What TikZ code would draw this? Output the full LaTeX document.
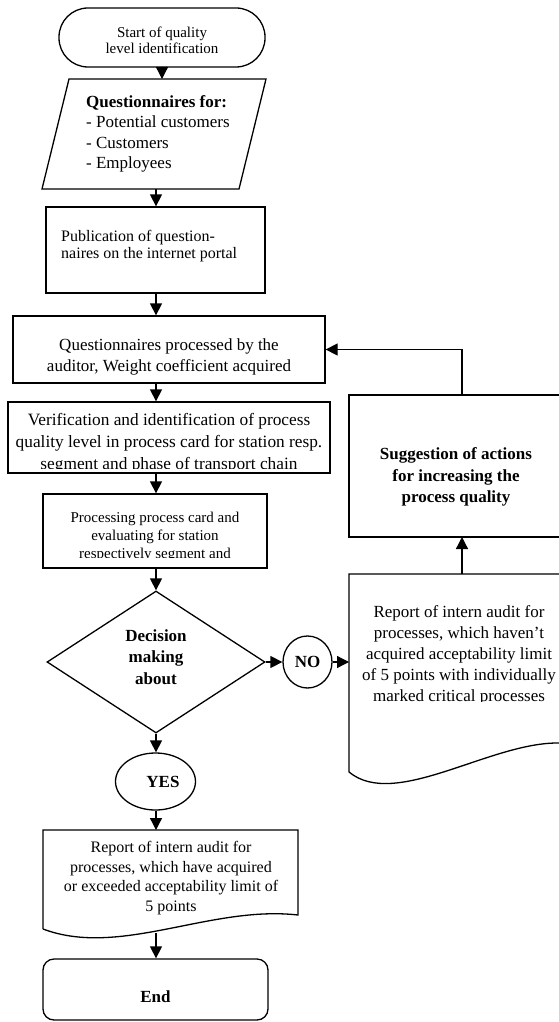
\documentclass[tikz,border=0pt]{standalone}
\usepackage{fontspec}
\setmainfont{Liberation Serif}
\usetikzlibrary{arrows.meta,shapes.geometric}
\newcommand\fsz[2]{\fontsize{#1pt}{#2pt}\selectfont}
\begin{document}
\begin{tikzpicture}[x=1pt,y=-1pt,
  lw/.style={line width=1.3pt},
  box/.style={draw,lw,rectangle,inner sep=0pt},
  txt/.style={align=center,inner sep=0pt},
  arr/.style={lw,-{Triangle[length=12pt,width=12pt]}},
]
\useasboundingbox (0,0) rectangle (559,1022);
\clip (0,0) rectangle (559,1022);

% start
\node[box,rounded corners=29pt,minimum width=206pt,minimum height=59pt] (start) at (162,37.5) {};
\node[txt,font=\fsz{15}{16}] (startt) at (162,40) {Start of quality\\level identification};

% parallelogram
\draw[lw] (69,79) -- (266,79) -- (239,189) -- (42,189) -- cycle;
\coordinate (qtop) at (162,79);
\coordinate (qbot) at (156,189);
\node[inner sep=0pt,align=left,anchor=west,font=\fsz{17}{20.5}] (quest) at (86,134) {\textbf{Questionnaires for:}\\- Potential customers\\- Customers\\- Employees};

% publication
\node[box,minimum width=219pt,minimum height=86pt] (pub) at (155.5,250) {};
\node[inner sep=0pt,align=left,anchor=west,font=\fsz{16}{17}] (pubt) at (61,246) {Publication of question-\\naires on the internet portal};

% processed
\node[box,minimum width=312pt,minimum height=67pt] (pq) at (169,349.5) {};
\node[txt,font=\fsz{17}{21}] (pqt) at (169,356.5) {Questionnaires processed by the\\auditor, Weight coefficient acquired};

% verification
\node[box,minimum width=322pt,minimum height=71pt] (ver) at (169,437.5) {};
\begin{scope}
\clip (8,402) rectangle (330,468.5);
\node[txt,font=\fsz{17.3}{22}] (vert) at (169,443.7) {Verification and identification of process\\quality level in process card for station resp.\\segment and phase of transport chain};
\end{scope}

% processing
\node[box,minimum width=224pt,minimum height=74pt] (proc) at (155,531) {};
\begin{scope}
\clip (43,494) rectangle (267,557.5);
\node[txt,font=\fsz{15}{18}] (proct) at (155,537) {Processing process card and\\evaluating for station\\respectively segment and};
\end{scope}

% decision
\node[draw,lw,diamond,aspect=1.535,inner sep=0pt,minimum width=218pt,minimum height=142pt] (dia) at (156,662) {};
\node[txt,font=\bfseries\fsz{17}{21.5}] (diat) at (156,657) {Decision\\making\\about};

% NO
\node[draw,lw,ellipse,inner sep=0pt,minimum width=49pt,minimum height=52pt,font=\bfseries\fsz{17}{20}] (no) at (307.5,662) {NO};

% right document
\draw[lw] (349,772) -- (349,574) -- (580,574) -- (580,743) -- (559,743) .. controls (490,742) and (395,810) .. (349,772);
\coordinate (rdtop) at (462,574);
\coordinate (rdleft) at (349,662);
\begin{scope}
\clip (349,574) rectangle (580,701.5);
\node[txt,font=\fsz{17}{21}] (rdt) at (459,655.5) {Report of intern audit for\\processes, which haven’t\\acquired acceptability limit\\of 5 points with individually\\marked critical processes};
\end{scope}

% suggestion
\node[box,minimum width=231pt,minimum height=142pt] (sug) at (464.5,466) {};
\node[txt,font=\bfseries\fsz{17}{21.5}] (sugt) at (456,477) {Suggestion of actions\\for increasing the\\process quality};
\coordinate (sugtop) at (462,395);
\coordinate (sugbot) at (462,537);

% YES
\node[draw,lw,ellipse,inner sep=0pt,minimum width=80pt,minimum height=57pt] (yes) at (155.5,781.5) {};
\node[txt,font=\bfseries\fsz{17}{20}] (yest) at (163,782) {YES};

% bottom document
\draw[lw] (43,929) -- (43,830) -- (298,830) -- (298,915) .. controls (210,905) and (120,958) .. (43,929);
\coordinate (rtop) at (156,830);
\coordinate (rbot) at (156,933);
\node[txt,font=\fsz{16}{19.5}] (rt) at (171,878) {Report of intern audit for\\processes, which have acquired\\or exceeded acceptability limit of\\5 points};

% end
\node[box,rounded corners=11pt,minimum width=225pt,minimum height=61pt] (end) at (155.5,989.5) {};
\node[txt,font=\bfseries\fsz{17}{20}] (endt) at (155.5,997) {End};

% connectors
\draw[arr] (start) -- (qtop);
\draw[arr] (qbot) -- (qbot |- pub.north);
\draw[arr] (qbot |- pub.south) -- (qbot |- pq.north);
\draw[arr] (qbot |- pq.south) -- (qbot |- ver.north);
\draw[arr] (qbot |- ver.south) -- (qbot |- proc.north);
\draw[arr] (qbot |- proc.south) -- (dia.north);
\draw[arr] (dia.south) -- (dia.south |- yes.north);
\draw[arr] (dia.south |- yes.south) -- (rtop);
\draw[arr] (rbot) -- (rbot |- end.north);
\draw[arr] (dia.east) -- (no.west);
\draw[arr] (no.east) -- (rdleft);
\draw[arr] (rdtop) -- (sugbot);
\draw[arr] (sugtop) |- (pq.east);
\end{tikzpicture}
\end{document}
